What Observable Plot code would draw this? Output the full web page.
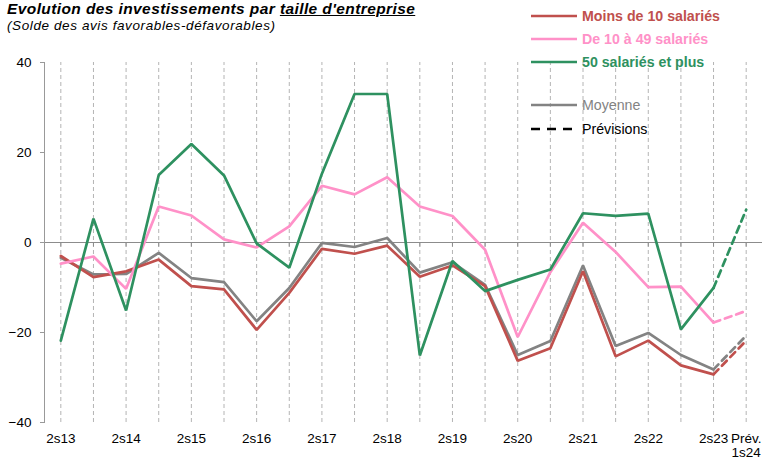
<!DOCTYPE html>
<html>
<head>
<meta charset="utf-8">
<script src="https://cdn.jsdelivr.net/npm/d3@7"></script>
<script src="https://cdn.jsdelivr.net/npm/@observablehq/plot@0.6"></script>
<style>
  body { margin: 0; background: #fff; font-family: "Liberation Sans", Arial, sans-serif; }
  #wrap { position: relative; width: 764px; height: 460px; }
  #title { position: absolute; left: 7px; top: 0px; font-size: 15.5px; letter-spacing: 0.4px; font-weight: bold; font-style: italic; color: #000; white-space: nowrap; }
  #subtitle { position: absolute; left: 7px; top: 18px; font-size: 13.5px; letter-spacing: 0.6px; font-style: italic; color: #000; white-space: nowrap; }
  #legend { position: absolute; left: 531px; top: 8px; font-size: 14.2px; }
  .lg { position: absolute; left: 0; white-space: nowrap; display: flex; align-items: center; }
  .lg svg { margin-right: 5px; }
  #chart { position: absolute; left: 0; top: 0; }
</style>
</head>
<body>
<div id="wrap">
  <div id="chart"></div>
  <div id="title">Evolution des investissements par <span style="text-decoration:underline">taille d'entreprise</span></div>
  <div id="subtitle">(Solde des avis favorables-défavorables)</div>
  <div id="legend"></div>
</div>
<script>
const periods = ["2s13","1s14","2s14","1s15","2s15","1s16","2s16","1s17","2s17","1s18","2s18","1s19","2s19","1s20","2s20","1s21","2s21","1s22","2s22","1s23","2s23","1s24"];
const tickLabels = ["2s13","2s14","2s15","2s16","2s17","2s18","2s19","2s20","2s21","2s22","2s23","Prév.\n1s24"];
const tickPeriods = ["2s13","2s14","2s15","2s16","2s17","2s18","2s19","2s20","2s21","2s22","2s23","1s24"];
const seriesNames = ["Moins de 10 salariés","De 10 à 49 salariés","50 salariés et plus","Moyenne"];
const seriesColors = ["#c0504d","#ff91c8","#2e9160","#838383"];
const moins10 = [-3.0,-7.7,-6.4,-3.8,-9.7,-10.4,-19.4,-11.2,-1.4,-2.5,-0.7,-7.6,-5.1,-9.7,-26.3,-23.5,-6.4,-25.3,-21.8,-27.3,-29.3,-21.8];
const de10a49 = [-4.7,-3.1,-10.3,8.0,6.0,0.7,-1.1,3.6,12.6,10.7,14.5,8.0,5.9,-1.6,-21.0,-6.6,4.4,-2.1,-9.9,-9.8,-17.8,-15.2];
const plus50 = [-21.8,5.3,-15.1,15.0,21.9,14.9,-0.2,-5.6,15.3,33.0,33.0,-25.1,-4.1,-10.8,-8.3,-6.0,6.5,5.9,6.4,-19.3,-10.1,7.3];
const moyenne = [-3.4,-7.1,-7.0,-2.3,-7.9,-8.8,-17.5,-10.1,-0.1,-1.0,1.0,-6.7,-4.4,-9.4,-25.0,-21.9,-5.1,-23.0,-20.1,-25.0,-28.2,-20.7];
const yTicks = [-40,-20,0,20,40];
const lastReal = 20;

const seriesValues = [moins10, de10a49, plus50, moyenne];
const drawOrder = [3, 0, 1, 2];
const solid = [], dashed = [];
for (const s of drawOrder) {
  seriesValues[s].forEach((v, i) => {
    const row = {period: periods[i], value: v, series: seriesNames[s]};
    if (i <= lastReal) solid.push(row);
    if (i >= lastReal) dashed.push(row);
  });
}
const labelOf = new Map(tickPeriods.map((p, i) => [p, tickLabels[i]]));

const chart = Plot.plot({
  width: 764,
  height: 460,
  marginTop: 62,
  marginBottom: 38,
  marginLeft: 44,
  marginRight: 2,
  style: {fontFamily: "'Liberation Sans', Arial, sans-serif", fontSize: "13px", color: "#000", background: "transparent"},
  x: {type: "point", domain: periods, padding: 0.5, round: false},
  y: {domain: [-40, 40]},
  color: {domain: seriesNames, range: seriesColors},
  marks: [
    Plot.ruleX(periods, {x: d => d, y1: -40, y2: 40, stroke: "#b4b4b4", strokeDasharray: "4,3", strokeWidth: 1}),
    Plot.ruleY([0], {stroke: "#8c8c8c", strokeWidth: 1.2}),
    Plot.ruleX(periods, {x: d => d, y1: 0, y2: -1, stroke: "#8c8c8c"}),
    Plot.frame({anchor: "left", stroke: "#999"}),
    Plot.axisY({ticks: yTicks, tickSize: 4, tickPadding: 9, stroke: "#999", fill: "#000", label: null, fontSize: 13.5}),
    Plot.axisX({ticks: tickPeriods, tickFormat: d => labelOf.get(d), tickSize: 0, tickPadding: 11, label: null, fill: "#000", fontSize: 13.5}),
    Plot.line(solid, {x: "period", y: "value", z: "series", stroke: "series", strokeWidth: 2.7, strokeLinejoin: "miter"}),
    Plot.line(dashed, {x: "period", y: "value", z: "series", stroke: "series", strokeWidth: 2.7, strokeDasharray: "7,5"})
  ]
});
document.getElementById("chart").appendChild(chart);

// legend
const legend = document.getElementById("legend");
const legendItems = [
  {label: seriesNames[0], color: seriesColors[0], bold: true, dash: null, top: 0},
  {label: seriesNames[1], color: seriesColors[1], bold: true, dash: null, top: 23},
  {label: seriesNames[2], color: seriesColors[2], bold: true, dash: null, top: 46},
  {label: seriesNames[3], color: seriesColors[3], bold: false, dash: null, top: 89},
  {label: "Prévisions", color: "#000", bold: false, dash: "9,7", top: 113}
];
for (const it of legendItems) {
  const d = document.createElement("div");
  d.className = "lg";
  d.style.top = it.top + "px";
  d.innerHTML = `<svg width="46" height="16"><line x1="0" x2="46" y1="8" y2="8" stroke="${it.color}" stroke-width="2.6" ${it.dash ? `stroke-dasharray="${it.dash}"` : ""}/></svg><span style="color:${it.color};font-weight:${it.bold ? "bold" : "normal"}">${it.label}</span>`;
  legend.appendChild(d);
}
</script>
</body>
</html>
